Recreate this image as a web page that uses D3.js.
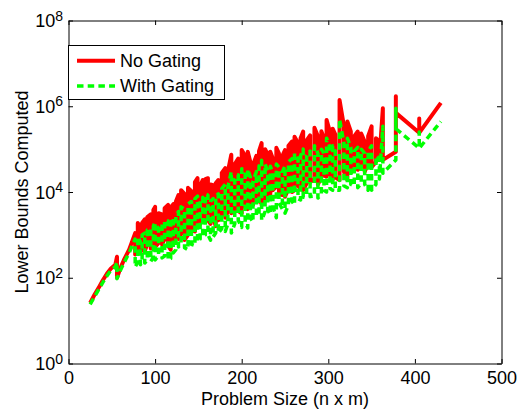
<!DOCTYPE html>
<html>
<head>
<meta charset="utf-8">
<script src="https://cdn.jsdelivr.net/npm/d3@7"></script>
<style>
  body { margin: 0; background: #fff; }
  svg { font-family: "Liberation Sans", Arial, Helvetica, sans-serif; }
</style>
</head>
<body>
<div id="chart"></div>
<script>
const width = 517;
const height = 409;

// problem size (n x m), one entry per run
const sizes = [
  25, 30, 36, 40, 45, 49, 54, 56, 56, 60, 64, 70,
  77, 77, 80, 80, 83, 83, 85, 85, 88, 88, 91, 91,
  95, 95, 98, 98, 100, 100, 104, 104, 108, 108, 111, 111,
  115, 115, 118, 118, 121, 121, 124, 124, 127, 127, 130, 130,
  134, 134, 138, 138, 142, 142, 146, 146, 149, 149, 152, 152,
  155, 155, 158, 158, 161, 161, 164, 164, 167, 167, 170, 170,
  173, 173, 177, 177, 181, 181, 184, 184, 188, 188, 192, 192,
  196, 196, 200, 200, 204, 204, 207, 207, 210, 210, 213, 213,
  217, 217, 220, 220, 223, 223, 227, 227, 230, 230, 233, 233,
  236, 236, 240, 240, 243, 243, 247, 247, 250, 250, 254, 254,
  258, 258, 261, 261, 265, 265, 268, 268, 271, 271, 275, 275,
  279, 279, 284, 284, 288, 288, 292, 292, 295, 295, 298, 298,
  302, 302, 305, 305, 308, 308, 313, 313, 318, 318, 322, 322,
  326, 326, 330, 330, 334, 334, 338, 338, 342, 342, 346, 346,
  350, 350, 355, 355, 359, 359, 363, 363, 378, 378, 378, 405, 405, 405, 430
];

const noGating = [
  26, 40, 64, 90, 130, 165, 200, 310, 100, 170, 260, 450,
  1100, 350, 420, 1900, 1500, 380, 500, 1900, 2300, 420, 600, 2600,
  3000, 480, 700, 3800, 4500, 520, 650, 3200, 3000, 600, 800, 4200,
  5000, 560, 450, 4400, 5200, 700, 900, 6000, 8500, 800, 1100, 11000,
  9000, 760, 1000, 12500, 10500, 1300, 1200, 17000, 21000, 1500, 1800, 14000,
  19000, 2000, 2400, 20000, 21000, 2200, 1800, 15000, 14500, 2600, 1600, 16000,
  19000, 2200, 3000, 28000, 36000, 2500, 3500, 30000, 74000, 3200, 4000, 45000,
  60000, 3600, 3200, 95000, 70000, 4500, 4000, 87000, 50000, 6000, 5000, 43000,
  70000, 7000, 6000, 90000, 138000, 5000, 8000, 100000, 75000, 7000, 9000, 87000,
  60000, 11000, 13500, 107000, 80000, 9000, 8500, 70000, 95000, 7800, 12000, 120000,
  150000, 10000, 11000, 195000, 140000, 14000, 12000, 180000, 257000, 11000, 16000, 160000,
  210000, 17000, 20000, 316000, 200000, 15000, 22000, 260000, 180000, 24000, 23000, 480000,
  250000, 26000, 19000, 300000, 220000, 22000, 19000, 1400000, 350000, 30000, 19000, 440000,
  260000, 28000, 35000, 200000, 257000, 33000, 40000, 230000, 150000, 30000, 45000, 200000,
  340000, 38000, 50000, 180000, 150000, 60000, 900000, 56000, 87000, 1700000, 700000, 240000, 520000, 240000, 1200000
];

const withGating = [
  24, 36, 58, 80, 115, 150, 180, 230, 95, 150, 220, 380,
  800, 180, 230, 900, 700, 200, 250, 1000, 1100, 220, 260, 1300,
  1400, 240, 300, 1600, 2000, 260, 330, 1500, 1800, 290, 320, 2200,
  2100, 260, 280, 1900, 2500, 380, 450, 2800, 3500, 520, 650, 4500,
  4000, 500, 450, 5200, 6000, 600, 560, 7000, 8000, 690, 800, 6500,
  7500, 900, 1000, 9000, 8500, 1000, 750, 6000, 7000, 900, 1100, 8000,
  9000, 1100, 1400, 12000, 15000, 1200, 1800, 13000, 30000, 1100, 1800, 20000,
  25000, 2200, 1500, 35000, 30000, 2000, 1450, 34000, 22000, 2500, 2000, 18000,
  30000, 2800, 3000, 40000, 55000, 2200, 3500, 45000, 30000, 3800, 3000, 40000,
  28000, 4500, 2500, 45000, 38000, 5500, 4000, 30000, 40000, 3200, 5000, 50000,
  60000, 6000, 5000, 80000, 60000, 7000, 6500, 70000, 100000, 7500, 9000, 70000,
  90000, 7800, 8000, 120000, 80000, 7200, 9000, 100000, 80000, 11000, 10000, 180000,
  110000, 12000, 11000, 120000, 90000, 11000, 11000, 500000, 140000, 14000, 12600, 180000,
  110000, 15000, 14000, 90000, 110000, 12600, 16000, 100000, 80000, 15000, 11000, 90000,
  120000, 11000, 15000, 70000, 60000, 20000, 340000, 27500, 56000, 900000, 300000, 105000, 250000, 105000, 440000
];

const xTicks = [0, 100, 200, 300, 400, 500];
const yTicks = [1e0, 1e2, 1e4, 1e6, 1e8];
const yTickExp = ["0", "2", "4", "6", "8"];
const seriesNames = ["No Gating", "With Gating"];

const colors = {
  noGating: "#ff0000",
  withGating: "#00ff00",
  axis: "#000"
};

const plot = { left: 68.5, right: 501.5, top: 20.5, bottom: 363.5 };

const x = d3.scaleLinear().domain([0, 500]).range([plot.left, plot.right]);
const y = d3.scaleLog().domain([1, 1e8]).range([plot.bottom, plot.top]);

const svg = d3.select("#chart")
  .append("svg")
  .attr("width", width)
  .attr("height", height);

svg.append("rect")
  .attr("width", width)
  .attr("height", height)
  .attr("fill", "#fff");

svg.append("clipPath")
  .attr("id", "plot-clip")
  .append("rect")
  .attr("x", plot.left)
  .attr("y", plot.top)
  .attr("width", plot.right - plot.left)
  .attr("height", plot.bottom - plot.top);

// series lines
const line = function(values) {
  return d3.line()
    .x(function(d, i) { return x(sizes[i]); })
    .y(function(d) { return y(d); })(values);
};

const lines = svg.append("g").attr("clip-path", "url(#plot-clip)");

lines.append("path")
  .attr("d", line(noGating))
  .attr("fill", "none")
  .attr("stroke", colors.noGating)
  .attr("stroke-width", 4)
  .attr("stroke-linejoin", "round");

lines.append("path")
  .attr("d", line(withGating))
  .attr("fill", "none")
  .attr("stroke", colors.withGating)
  .attr("stroke-width", 3.5)
  .attr("stroke-dasharray", "6.5,4.2")
  .attr("stroke-linejoin", "round");

// axes (ticks point inwards, box on all four sides)
const tickLen = 4.5;

const xAxis = svg.append("g")
  .attr("transform", "translate(0," + plot.bottom + ")")
  .call(d3.axisBottom(x).tickValues(xTicks).tickSizeInner(-tickLen).tickSizeOuter(0).tickPadding(8)
    .tickFormat(d3.format("d")));

svg.append("g")
  .attr("transform", "translate(0," + plot.top + ")")
  .call(d3.axisTop(x).tickValues(xTicks).tickSizeInner(-tickLen).tickSizeOuter(0).tickFormat(""));

svg.append("g")
  .attr("transform", "translate(" + plot.left + ",0)")
  .call(d3.axisLeft(y).tickValues(yTicks).tickSizeInner(-tickLen).tickSizeOuter(0).tickFormat(""));

svg.append("g")
  .attr("transform", "translate(" + plot.right + ",0)")
  .call(d3.axisRight(y).tickValues(yTicks).tickSizeInner(-tickLen).tickSizeOuter(0).tickFormat(""));

svg.selectAll(".domain, .tick line")
  .attr("stroke", colors.axis)
  .attr("stroke-width", 1);

xAxis.selectAll("text")
  .attr("font-size", 18)
  .attr("font-family", "Liberation Sans, Arial, sans-serif")
  .attr("fill", "#000");

// y tick labels as 10^k
const yLabels = svg.append("g")
  .selectAll("text")
  .data(yTicks)
  .enter()
  .append("text")
  .attr("x", 63)
  .attr("y", function(d) { return y(d) + 6.7; })
  .attr("text-anchor", "end")
  .attr("font-size", 18)
  .attr("fill", "#000");

yLabels.append("tspan").text("10");
yLabels.append("tspan")
  .attr("dy", -6.7)
  .attr("font-size", 14)
  .text(function(d, i) { return yTickExp[i]; });

// axis titles
svg.append("text")
  .attr("x", (plot.left + plot.right) / 2)
  .attr("y", 404.5)
  .attr("text-anchor", "middle")
  .attr("font-size", 18)
  .text("Problem Size (n x m)");

svg.append("text")
  .attr("transform", "translate(28," + (plot.top + plot.bottom) / 2 + ") rotate(-90)")
  .attr("text-anchor", "middle")
  .attr("font-size", 18)
  .text("Lower Bounds Computed");

// legend
const legend = svg.append("g");

legend.append("rect")
  .attr("x", 68.5)
  .attr("y", 45.5)
  .attr("width", 156)
  .attr("height", 54)
  .attr("fill", "#fff")
  .attr("stroke", "#000");

const legendRows = [
  { name: seriesNames[0], color: colors.noGating, dash: null, width: 4, y: 60.7 },
  { name: seriesNames[1], color: colors.withGating, dash: "6.5,4.2", width: 3.5, y: 86 }
];

legend.selectAll(".key")
  .data(legendRows)
  .enter()
  .append("line")
  .attr("x1", 77)
  .attr("x2", 115)
  .attr("y1", function(d) { return d.y; })
  .attr("y2", function(d) { return d.y; })
  .attr("stroke", function(d) { return d.color; })
  .attr("stroke-width", function(d) { return d.width; })
  .attr("stroke-dasharray", function(d) { return d.dash; });

legend.selectAll(".label")
  .data(legendRows)
  .enter()
  .append("text")
  .attr("x", 120)
  .attr("y", function(d) { return d.y + 6; })
  .attr("font-size", 18)
  .text(function(d) { return d.name; });
</script>
</body>
</html>
